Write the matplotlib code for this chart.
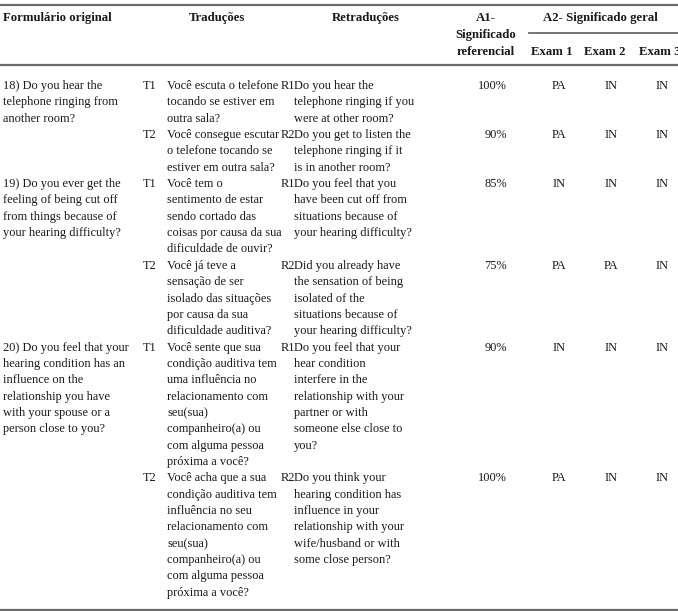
import matplotlib
matplotlib.use('Agg')
from matplotlib import pyplot as plt
from matplotlib.lines import Line2D

plt.rcParams['font.family'] = ['Liberation Serif', 'DejaVu Serif']

# table content
questions = [
    "18) Do you hear the\ntelephone ringing from\nanother room?",
    "19) Do you ever get the\nfeeling of being cut off\nfrom things because of\nyour hearing difficulty?",
    "20) Do you feel that your\nhearing condition has an\ninfluence on the\nrelationship you have\nwith your spouse or a\nperson close to you?",
]

trans_labels = ["T1", "T2", "T1", "T2", "T1", "T2"]
translations = [
    "Você escuta o telefone\ntocando se estiver em\noutra sala?",
    "Você consegue escutar\no telefone tocando se\nestiver em outra sala?",
    "Você tem o\nsentimento de estar\nsendo cortado das\ncoisas por causa da sua\ndificuldade de ouvir?",
    "Você já teve a\nsensação de ser\nisolado das situações\npor causa da sua\ndificuldade auditiva?",
    "Você sente que sua\ncondição auditiva tem\numa influência no\nrelacionamento com\nseu(sua)\ncompanheiro(a) ou\ncom alguma pessoa\npróxima a você?",
    "Você acha que a sua\ncondição auditiva tem\ninfluência no seu\nrelacionamento com\nseu(sua)\ncompanheiro(a) ou\ncom alguma pessoa\npróxima a você?",
]

back_labels = ["R1", "R2", "R1", "R2", "R1", "R2"]
back_translations = [
    "Do you hear the\ntelephone ringing if you\nwere at other room?",
    "Do you get to listen the\ntelephone ringing if it\nis in another room?",
    "Do you feel that you\nhave been cut off from\nsituations because of\nyour hearing difficulty?",
    "Did you already have\nthe sensation of being\nisolated of the\nsituations because of\nyour hearing difficulty?",
    "Do you feel that your\nhear condition\ninterfere in the\nrelationship with your\npartner or with\nsomeone else close to\nyou?",
    "Do you think your\nhearing condition has\ninfluence in your\nrelationship with your\nwife/husband or with\nsome close person?",
]

a1_referential = ["100%", "90%", "85%", "75%", "90%", "100%"]
exam1 = ["PA", "PA", "IN", "PA", "IN", "PA"]
exam2 = ["IN", "IN", "IN", "PA", "IN", "IN"]
exam3 = ["IN", "IN", "IN", "IN", "IN", "IN"]

# subrows belonging to each question
question_rows = [0, 2, 4]

W, H = 678, 611
fig = plt.figure(figsize=(W / 100, H / 100), dpi=100)
fig.patch.set_facecolor('white')

TXT = '#1a1a1a'
LINE = '#6a6a6a'
FS = 8.9
FS_HEAD = 9.2
LH = 16.35  # line height in px


def fx(x):
    return x / W


def fy(y):
    return 1 - y / H


def put(x, y, s, ha='left', bold=False):
    fig.text(fx(x), fy(y), s, ha=ha, va='center',
             fontsize=FS_HEAD if bold else FS, color=TXT,
             fontweight='bold' if bold else 'normal')


def block(x, y, s):
    # one text per line so the spacing matches the table
    for k, part in enumerate(s.split('\n')):
        put(x, y + k * LH, part)


def hline(y, x0=0, x1=W, lw=1.6):
    fig.add_artist(Line2D([fx(x0), fx(x1)], [fy(y), fy(y)], color=LINE,
                          lw=lw, transform=fig.transFigure))


# rules
hline(5)
hline(33, 529, W, lw=1.3)
hline(64.5)
hline(610)

# header
put(3, 18, "Formulário original", bold=True)
put(217, 18, "Traduções", ha='center', bold=True)
put(366, 18, "Retraduções", ha='center', bold=True)
put(486, 18, "A1-", ha='center', bold=True)
put(486, 35, "Significado", ha='center', bold=True)
put(486, 52, "referencial", ha='center', bold=True)
put(600, 18, "A2- Significado geral", ha='center', bold=True)
put(552, 52, "Exam 1", ha='center', bold=True)
put(605, 52, "Exam 2", ha='center', bold=True)
put(639, 52, "Exam 3", ha='left', bold=True)

# body
y0 = 86
line_idx = 0
for i in range(len(translations)):
    n = max(translations[i].count('\n'), back_translations[i].count('\n')) + 1
    y = y0 + line_idx * LH
    if i in question_rows:
        block(3, y, questions[question_rows.index(i)])
    put(143, y, trans_labels[i])
    block(167, y, translations[i])
    put(281, y, back_labels[i])
    block(294, y, back_translations[i])
    put(507, y, a1_referential[i], ha='right')
    put(559, y, exam1[i], ha='center')
    put(611, y, exam2[i], ha='center')
    put(662, y, exam3[i], ha='center')
    line_idx += n

fig.savefig('out.png', dpi=100, facecolor='white')
